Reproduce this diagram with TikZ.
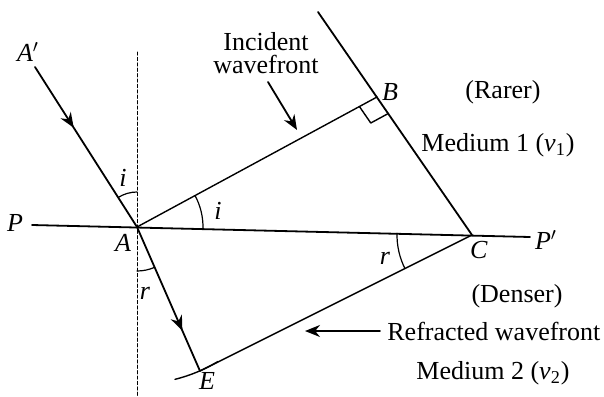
\documentclass[tikz,border=0pt]{standalone}
\usepackage{fontspec}
\setmainfont{Liberation Serif}
\usetikzlibrary{arrows.meta, angles, calc, decorations.markings}

\tikzset{
	rayline/.style={line width=0.9pt},
	wavefront/.style={line width=0.7pt},
	normalline/.style={line width=0.5pt, dash pattern=on 1.6pt off 1.1pt},
	midarrow/.style={postaction={decorate}, decoration={markings,
			mark=at position #1 with {\arrow{Stealth[length=7.5pt, width=6pt]}}}},
	lbl/.style={inner sep=0pt, font=\fontsize{13}{11.5}\selectfont},
	ang/.style={draw, line width=0.6pt},
}

\begin{document}
\begin{tikzpicture}[x=0.5pt, y=0.5pt, line cap=round, line join=round, >={Stealth[length=7.5pt, width=6pt]}]
	
	\useasboundingbox (0,0) rectangle (604,-396);
	
	% Define points
	\coordinate (A) at (137,-227);
	\coordinate (A1) at (35,-67);
	\coordinate (B) at (377,-97);
	\coordinate (T) at (318,-12);
	\coordinate (C) at (472,-235);
	\coordinate (E) at (200,-371);
	\coordinate (Pl) at (32,-225);
	\coordinate (Pr) at (530,-237);
	\coordinate (N) at (137,-52);
	\coordinate (Nb) at (137,-396);
	
	% Normal at A
	\draw[normalline] (N) -- (Nb);
	
	% Surface PP'
	\draw[rayline] (Pl) -- (Pr);
	
	% Incident and refracted rays
	\draw[rayline, midarrow=0.38] (A1) -- (A);
	\draw[rayline, midarrow=0.72] (A) -- (E);
	
	% Wavefronts
	\draw[rayline] (T) -- (C);
	\draw[wavefront] (A) -- (B);
	\draw[wavefront] (C) -- (E);
	
	% Arc through E, centred at A
	\draw[wavefront] (A) ++(-76:78.5pt) arc[start angle=-76, end angle=-59, radius=78.5pt];
	
	% Right angle at B
	\coordinate (b1) at ($(B)!10pt!(A)$);
	\coordinate (b2) at ($(B)!10pt!(C)$);
	\draw[wavefront] (b1) -- ($(b1)+(b2)-(B)$) -- (b2);
	
	% Angles
	\pic[ang, angle radius=17.5pt] {angle = N--A--A1};
	\pic[ang, angle radius=33pt] {angle = C--A--B};
	\pic[ang, angle radius=22pt] {angle = Nb--A--E};
	\pic[ang, angle radius=37.5pt] {angle = A--C--E};
	
	% Point labels
	\node[lbl] (lA1) at (28,-52) {\textit{A}$'$};
	\node[lbl] (lP) at (15,-223) {\textit{P}};
	\node[lbl] (lA) at (123,-243) {\textit{A}};
	\node[lbl] (lB) at (390,-92) {\textit{B}};
	\node[lbl] (lC) at (479,-250) {\textit{C}};
	\node[lbl] (lP2) at (546,-240) {\textit{P}$'$};
	\node[lbl] (lE) at (207,-381) {\textit{E}};
	
	% Angle labels
	\node[lbl] (li1) at (123,-178) {\textit{i}};
	\node[lbl] (li2) at (218,-211) {\textit{i}};
	\node[lbl] (lr1) at (145,-293) {\textit{r}};
	\node[lbl] (lr2) at (385,-258) {\textit{r}};
	
	% Media
	\node[lbl] (lrare) at (503,-92) {(Rarer)};
	\node[lbl] (lmed1) at (498,-145) {Medium 1 (\textit{v}\textsubscript{1})};
	\node[lbl] (ldense) at (517,-296) {(Denser)};
	\node[lbl] (lmed2) at (493,-373) {Medium 2 (\textit{v}\textsubscript{2})};
	
	% Wavefront labels
	\node[lbl, align=center] (linc) at (266,-53) {Incident\\wavefront};
	\coordinate (inctail) at (268,-82);
	\coordinate (inctip) at (297,-130);
	\draw[rayline, ->] (inctail) -- (inctip);
	
	\node[lbl, anchor=west] (lref) at (387,-331) {Refracted wavefront};
	\coordinate (reftip) at (305,-331);
	\draw[rayline, ->] ([xshift=-3.5pt]lref.west) -- (reftip);
	
\end{tikzpicture}
\end{document}
